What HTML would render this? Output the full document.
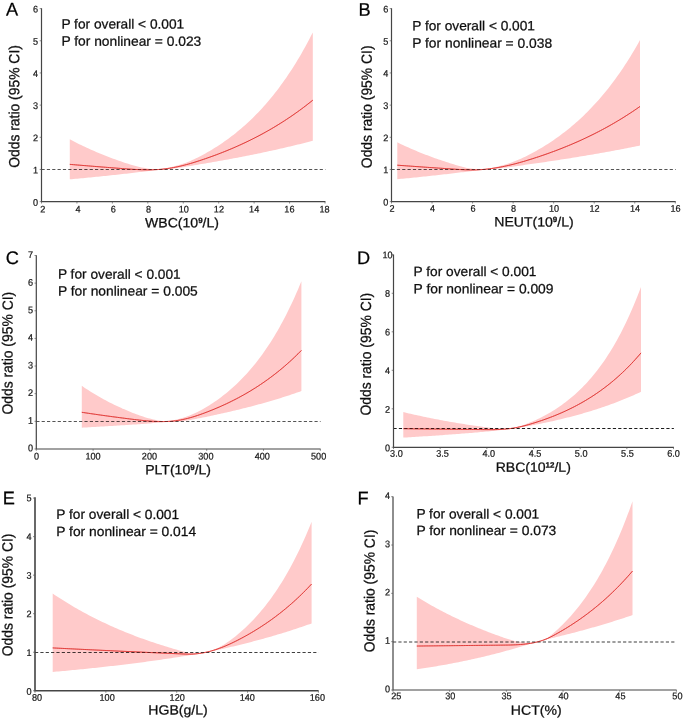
<!DOCTYPE html>
<html lang="en">
<head>
<meta charset="utf-8">
<title>Odds ratio (95% CI) restricted cubic spline curves</title>
<style>
html,body{margin:0;padding:0;background:#fff;}
body{width:685px;height:720px;overflow:hidden;}
svg{display:block;font-family:"Liberation Sans", Arial, Helvetica, sans-serif;}
text{stroke:#111;stroke-width:0.26px;stroke-linejoin:round;}
.tk text{stroke-width:0.22px;}
</style>
</head>
<body>
<svg width="685" height="720" viewBox="0 0 685 720">
<defs><filter id="soft" x="0" y="0" width="685" height="720" filterUnits="userSpaceOnUse"><feGaussianBlur stdDeviation="0.35"/></filter></defs>
<g filter="url(#soft)">
<rect width="685" height="720" fill="#ffffff"/>
<g id="panel-A">
<path d="M69.8 139.29 L71.68 140.29 L73.57 141.28 L75.45 142.24 L77.33 143.2 L79.22 144.14 L81.1 145.06 L82.99 145.97 L84.87 146.86 L86.75 147.74 L88.64 148.6 L90.52 149.46 L92.4 150.29 L94.29 151.12 L96.17 151.93 L98.06 152.73 L99.94 153.51 L101.82 154.28 L103.71 155.04 L105.59 155.79 L107.47 156.53 L109.36 157.25 L111.24 157.96 L113.13 158.66 L115.01 159.35 L116.89 160.03 L118.78 160.7 L120.66 161.35 L122.54 162 L124.43 162.63 L126.31 163.25 L128.2 163.85 L130.08 164.43 L131.96 164.99 L133.85 165.53 L135.73 166.04 L137.61 166.52 L139.5 166.97 L141.38 167.39 L143.27 167.77 L145.15 168.12 L147.03 168.44 L148.92 168.72 L150.8 168.96 L152.68 169.15 L154.57 169.31 L156.45 169.43 L158.33 169.5 L160.22 169.22 L162.1 168.9 L163.99 168.57 L165.87 168.22 L167.75 167.84 L169.64 167.45 L171.52 167.02 L173.4 166.57 L175.29 166.09 L177.17 165.57 L179.06 165.02 L180.94 164.43 L182.82 163.8 L184.71 163.13 L186.59 162.42 L188.47 161.67 L190.36 160.89 L192.24 160.06 L194.13 159.21 L196.01 158.31 L197.89 157.38 L199.78 156.43 L201.66 155.44 L203.54 154.43 L205.43 153.4 L207.31 152.34 L209.2 151.25 L211.08 150.14 L212.96 149.01 L214.85 147.84 L216.73 146.65 L218.61 145.44 L220.5 144.19 L222.38 142.92 L224.27 141.61 L226.15 140.28 L228.03 138.92 L229.92 137.52 L231.8 136.1 L233.68 134.64 L235.57 133.15 L237.45 131.62 L239.33 130.07 L241.22 128.47 L243.1 126.84 L244.99 125.18 L246.87 123.47 L248.75 121.73 L250.64 119.95 L252.52 118.13 L254.4 116.27 L256.29 114.36 L258.17 112.42 L260.06 110.43 L261.94 108.39 L263.82 106.31 L265.71 104.18 L267.59 102.01 L269.47 99.79 L271.36 97.51 L273.24 95.19 L275.13 92.81 L277.01 90.38 L278.89 87.9 L280.78 85.36 L282.66 82.77 L284.54 80.11 L286.43 77.4 L288.31 74.62 L290.2 71.79 L292.08 68.89 L293.96 65.92 L295.85 62.89 L297.73 59.8 L299.61 56.63 L301.5 53.39 L303.38 50.08 L305.27 46.69 L307.15 43.23 L309.03 39.7 L310.92 36.08 L312.8 32.38 L312.8 140.81 L310.92 141.3 L309.03 141.78 L307.15 142.27 L305.27 142.74 L303.38 143.22 L301.5 143.69 L299.61 144.15 L297.73 144.61 L295.85 145.07 L293.96 145.53 L292.08 145.98 L290.2 146.43 L288.31 146.87 L286.43 147.31 L284.54 147.75 L282.66 148.18 L280.78 148.61 L278.89 149.04 L277.01 149.46 L275.13 149.88 L273.24 150.3 L271.36 150.71 L269.47 151.12 L267.59 151.53 L265.71 151.93 L263.82 152.34 L261.94 152.73 L260.06 153.13 L258.17 153.52 L256.29 153.91 L254.4 154.29 L252.52 154.68 L250.64 155.05 L248.75 155.43 L246.87 155.81 L244.99 156.18 L243.1 156.54 L241.22 156.91 L239.33 157.27 L237.45 157.63 L235.57 157.99 L233.68 158.34 L231.8 158.7 L229.92 159.05 L228.03 159.39 L226.15 159.74 L224.27 160.08 L222.38 160.42 L220.5 160.76 L218.61 161.09 L216.73 161.43 L214.85 161.76 L212.96 162.09 L211.08 162.42 L209.2 162.75 L207.31 163.07 L205.43 163.39 L203.54 163.72 L201.66 164.04 L199.78 164.36 L197.89 164.69 L196.01 165.01 L194.13 165.33 L192.24 165.65 L190.36 165.96 L188.47 166.28 L186.59 166.59 L184.71 166.9 L182.82 167.2 L180.94 167.5 L179.06 167.79 L177.17 168.07 L175.29 168.33 L173.4 168.58 L171.52 168.81 L169.64 169.01 L167.75 169.19 L165.87 169.33 L163.99 169.44 L162.1 169.5 L160.22 169.52 L158.33 169.53 L156.45 169.82 L154.57 170.1 L152.68 170.37 L150.8 170.64 L148.92 170.9 L147.03 171.15 L145.15 171.4 L143.27 171.64 L141.38 171.88 L139.5 172.11 L137.61 172.34 L135.73 172.57 L133.85 172.79 L131.96 173.01 L130.08 173.23 L128.2 173.44 L126.31 173.66 L124.43 173.87 L122.54 174.08 L120.66 174.28 L118.78 174.49 L116.89 174.7 L115.01 174.9 L113.13 175.1 L111.24 175.3 L109.36 175.5 L107.47 175.7 L105.59 175.89 L103.71 176.09 L101.82 176.28 L99.94 176.47 L98.06 176.67 L96.17 176.85 L94.29 177.04 L92.4 177.23 L90.52 177.41 L88.64 177.6 L86.75 177.78 L84.87 177.96 L82.99 178.14 L81.1 178.32 L79.22 178.49 L77.33 178.67 L75.45 178.84 L73.57 179.02 L71.68 179.19 L69.8 179.36Z" fill="#ffcaca"/>
<path d="M69.8 164.36 L71.68 164.52 L73.57 164.68 L75.45 164.84 L77.33 165 L79.22 165.15 L81.1 165.31 L82.99 165.46 L84.87 165.62 L86.75 165.77 L88.64 165.93 L90.52 166.08 L92.4 166.23 L94.29 166.38 L96.17 166.54 L98.06 166.69 L99.94 166.84 L101.82 166.99 L103.71 167.13 L105.59 167.28 L107.47 167.43 L109.36 167.58 L111.24 167.72 L113.13 167.87 L115.01 168.01 L116.89 168.16 L118.78 168.3 L120.66 168.44 L122.54 168.58 L124.43 168.72 L126.31 168.86 L128.2 169 L130.08 169.13 L131.96 169.25 L133.85 169.36 L135.73 169.47 L137.61 169.56 L139.5 169.64 L141.38 169.71 L143.27 169.76 L145.15 169.8 L147.03 169.82 L148.92 169.83 L150.8 169.81 L152.68 169.77 L154.57 169.71 L156.45 169.62 L158.33 169.51 L160.22 169.37 L162.1 169.2 L163.99 169.01 L165.87 168.78 L167.75 168.52 L169.64 168.24 L171.52 167.93 L173.4 167.59 L175.29 167.23 L177.17 166.84 L179.06 166.43 L180.94 166 L182.82 165.54 L184.71 165.06 L186.59 164.57 L188.47 164.05 L190.36 163.51 L192.24 162.96 L194.13 162.39 L196.01 161.8 L197.89 161.2 L199.78 160.59 L201.66 159.96 L203.54 159.33 L205.43 158.69 L207.31 158.03 L209.2 157.37 L211.08 156.7 L212.96 156.01 L214.85 155.32 L216.73 154.62 L218.61 153.9 L220.5 153.18 L222.38 152.44 L224.27 151.69 L226.15 150.93 L228.03 150.16 L229.92 149.38 L231.8 148.59 L233.68 147.78 L235.57 146.96 L237.45 146.13 L239.33 145.29 L241.22 144.43 L243.1 143.56 L244.99 142.68 L246.87 141.78 L248.75 140.87 L250.64 139.95 L252.52 139.01 L254.4 138.06 L256.29 137.09 L258.17 136.11 L260.06 135.12 L261.94 134.11 L263.82 133.08 L265.71 132.04 L267.59 130.98 L269.47 129.91 L271.36 128.82 L273.24 127.71 L275.13 126.59 L277.01 125.45 L278.89 124.29 L280.78 123.11 L282.66 121.92 L284.54 120.71 L286.43 119.48 L288.31 118.23 L290.2 116.96 L292.08 115.68 L293.96 114.37 L295.85 113.04 L297.73 111.7 L299.61 110.33 L301.5 108.94 L303.38 107.54 L305.27 106.11 L307.15 104.65 L309.03 103.18 L310.92 101.69 L312.8 100.17" fill="none" stroke="#e03a37" stroke-width="0.95"/>
<line x1="41.5" y1="169.5" x2="325.4" y2="169.5" stroke="#000" stroke-opacity="0.84" stroke-width="0.8" stroke-dasharray="3.2 2.15" stroke-dashoffset="0"/>
<path d="M69.8 164.36 L71.68 164.52 L73.57 164.68 L75.45 164.84 L77.33 165 L79.22 165.15 L81.1 165.31 L82.99 165.46 L84.87 165.62 L86.75 165.77 L88.64 165.93 L90.52 166.08 L92.4 166.23 L94.29 166.38 L96.17 166.54 L98.06 166.69 L99.94 166.84 L101.82 166.99 L103.71 167.13 L105.59 167.28 L107.47 167.43 L109.36 167.58 L111.24 167.72 L113.13 167.87 L115.01 168.01 L116.89 168.16 L118.78 168.3 L120.66 168.44 L122.54 168.58 L124.43 168.72 L126.31 168.86 L128.2 169 L130.08 169.13 L131.96 169.25 L133.85 169.36 L135.73 169.47 L137.61 169.56 L139.5 169.64 L141.38 169.71 L143.27 169.76 L145.15 169.8 L147.03 169.82 L148.92 169.83 L150.8 169.81 L152.68 169.77 L154.57 169.71 L156.45 169.62 L158.33 169.51 L160.22 169.37 L162.1 169.2 L163.99 169.01 L165.87 168.78 L167.75 168.52 L169.64 168.24 L171.52 167.93 L173.4 167.59 L175.29 167.23 L177.17 166.84 L179.06 166.43 L180.94 166 L182.82 165.54 L184.71 165.06 L186.59 164.57 L188.47 164.05 L190.36 163.51 L192.24 162.96 L194.13 162.39 L196.01 161.8 L197.89 161.2 L199.78 160.59 L201.66 159.96 L203.54 159.33 L205.43 158.69 L207.31 158.03 L209.2 157.37 L211.08 156.7 L212.96 156.01 L214.85 155.32 L216.73 154.62 L218.61 153.9 L220.5 153.18 L222.38 152.44 L224.27 151.69 L226.15 150.93 L228.03 150.16 L229.92 149.38 L231.8 148.59 L233.68 147.78 L235.57 146.96 L237.45 146.13 L239.33 145.29 L241.22 144.43 L243.1 143.56 L244.99 142.68 L246.87 141.78 L248.75 140.87 L250.64 139.95 L252.52 139.01 L254.4 138.06 L256.29 137.09 L258.17 136.11 L260.06 135.12 L261.94 134.11 L263.82 133.08 L265.71 132.04 L267.59 130.98 L269.47 129.91 L271.36 128.82 L273.24 127.71 L275.13 126.59 L277.01 125.45 L278.89 124.29 L280.78 123.11 L282.66 121.92 L284.54 120.71 L286.43 119.48 L288.31 118.23 L290.2 116.96 L292.08 115.68 L293.96 114.37 L295.85 113.04 L297.73 111.7 L299.61 110.33 L301.5 108.94 L303.38 107.54 L305.27 106.11 L307.15 104.65 L309.03 103.18 L310.92 101.69 L312.8 100.17" fill="none" stroke="#e03a37" stroke-opacity="0.38" stroke-width="0.95"/>
<path d="M41.5 8.2 V201.7 H325.4" fill="none" stroke="#444444" stroke-width="1.2" stroke-linejoin="miter"/>
<path d="M41.5 201.7 v1.8 M76.94 201.7 v1.8 M112.38 201.7 v1.8 M147.81 201.7 v1.8 M183.25 201.7 v1.8 M218.69 201.7 v1.8 M254.12 201.7 v1.8 M289.56 201.7 v1.8 M325 201.7 v1.8 M41.5 201.65 h-1.8 M41.5 169.47 h-1.8 M41.5 137.3 h-1.8 M41.5 105.12 h-1.8 M41.5 72.95 h-1.8 M41.5 40.77 h-1.8 M41.5 8.6 h-1.8" fill="none" stroke="#5a5a5a" stroke-width="0.7"/>
<g class="tk" font-size="9.6" fill="#1c1c1c">
<text transform="translate(42.8 212.6) rotate(0.05) scale(0.95 1)" text-anchor="middle">2</text>
<text transform="translate(78.03 212.6) rotate(0.05) scale(0.95 1)" text-anchor="middle">4</text>
<text transform="translate(113.25 212.6) rotate(0.05) scale(0.95 1)" text-anchor="middle">6</text>
<text transform="translate(148.48 212.6) rotate(0.05) scale(0.95 1)" text-anchor="middle">8</text>
<text transform="translate(183.7 212.6) rotate(0.05) scale(0.95 1)" text-anchor="middle">10</text>
<text transform="translate(218.93 212.6) rotate(0.05) scale(0.95 1)" text-anchor="middle">12</text>
<text transform="translate(254.15 212.6) rotate(0.05) scale(0.95 1)" text-anchor="middle">14</text>
<text transform="translate(289.38 212.6) rotate(0.05) scale(0.95 1)" text-anchor="middle">16</text>
<text transform="translate(324.6 212.6) rotate(0.05) scale(0.95 1)" text-anchor="middle">18</text>
<text transform="translate(35.5 205.63) rotate(0.05) scale(0.95 1)" text-anchor="middle">0</text>
<text transform="translate(35.5 173.45) rotate(0.05) scale(0.95 1)" text-anchor="middle">1</text>
<text transform="translate(35.5 141.26) rotate(0.05) scale(0.95 1)" text-anchor="middle">2</text>
<text transform="translate(35.5 109.08) rotate(0.05) scale(0.95 1)" text-anchor="middle">3</text>
<text transform="translate(35.5 76.9) rotate(0.05) scale(0.95 1)" text-anchor="middle">4</text>
<text transform="translate(35.5 44.71) rotate(0.05) scale(0.95 1)" text-anchor="middle">5</text>
<text transform="translate(35.5 12.53) rotate(0.05) scale(0.95 1)" text-anchor="middle">6</text>
</g>
<text transform="translate(6 15.4) rotate(0.05) scale(1.0 1)" font-size="18.2" fill="#000">A</text>
<g font-size="13.3" fill="#111111">
<text transform="translate(61.4 28.45) rotate(0.05) scale(1.031 1)">P for overall &lt; 0.001</text>
<text transform="translate(61.4 45.6) rotate(0.05) scale(1.04 1)">P for nonlinear = 0.023</text>
</g>
<text transform="translate(182 227.3) rotate(0.05) scale(1.05 1)" font-size="13.4" fill="#111111" text-anchor="middle">WBC(10<tspan font-size="7.6" dy="-4.4" font-weight="bold">9</tspan><tspan dy="4.4">/L)</tspan></text>
<text transform="translate(19.3 106.5) rotate(-89.95) scale(1 1.06)" font-size="13.9" fill="#111111" text-anchor="middle">Odds ratio (95% CI)</text>
</g>
<g id="panel-B">
<path d="M397.3 142.37 L399.18 143.28 L401.06 144.18 L402.94 145.06 L404.83 145.93 L406.71 146.78 L408.59 147.62 L410.47 148.45 L412.35 149.27 L414.23 150.07 L416.11 150.86 L418 151.64 L419.88 152.4 L421.76 153.16 L423.64 153.9 L425.52 154.63 L427.4 155.36 L429.28 156.06 L431.17 156.76 L433.05 157.45 L434.93 158.13 L436.81 158.8 L438.69 159.45 L440.57 160.1 L442.45 160.73 L444.33 161.36 L446.22 161.98 L448.1 162.59 L449.98 163.18 L451.86 163.77 L453.74 164.35 L455.62 164.92 L457.5 165.48 L459.39 166.02 L461.27 166.54 L463.15 167.02 L465.03 167.48 L466.91 167.9 L468.79 168.27 L470.67 168.6 L472.56 168.87 L474.44 169.09 L476.32 169.26 L478.2 169.39 L480.08 169.46 L481.96 169.5 L483.84 169.3 L485.73 168.99 L487.61 168.67 L489.49 168.33 L491.37 167.97 L493.25 167.6 L495.13 167.19 L497.01 166.77 L498.9 166.32 L500.78 165.84 L502.66 165.33 L504.54 164.78 L506.42 164.21 L508.3 163.6 L510.18 162.96 L512.07 162.28 L513.95 161.57 L515.83 160.83 L517.71 160.05 L519.59 159.24 L521.47 158.4 L523.35 157.53 L525.23 156.63 L527.12 155.7 L529 154.75 L530.88 153.77 L532.76 152.77 L534.64 151.74 L536.52 150.69 L538.4 149.62 L540.29 148.53 L542.17 147.41 L544.05 146.27 L545.93 145.1 L547.81 143.9 L549.69 142.68 L551.57 141.44 L553.46 140.16 L555.34 138.86 L557.22 137.53 L559.1 136.18 L560.98 134.79 L562.86 133.37 L564.74 131.93 L566.63 130.45 L568.51 128.94 L570.39 127.4 L572.27 125.82 L574.15 124.22 L576.03 122.57 L577.91 120.9 L579.8 119.18 L581.68 117.43 L583.56 115.65 L585.44 113.82 L587.32 111.96 L589.2 110.05 L591.08 108.11 L592.97 106.12 L594.85 104.09 L596.73 102.02 L598.61 99.9 L600.49 97.74 L602.37 95.53 L604.25 93.28 L606.13 90.98 L608.02 88.63 L609.9 86.23 L611.78 83.77 L613.66 81.27 L615.54 78.71 L617.42 76.1 L619.3 73.43 L621.19 70.71 L623.07 67.92 L624.95 65.08 L626.83 62.18 L628.71 59.21 L630.59 56.19 L632.47 53.09 L634.36 49.94 L636.24 46.71 L638.12 43.42 L640 40.05 L640 145.59 L638.12 145.98 L636.24 146.35 L634.36 146.73 L632.47 147.1 L630.59 147.47 L628.71 147.84 L626.83 148.21 L624.95 148.57 L623.07 148.93 L621.19 149.29 L619.3 149.65 L617.42 150 L615.54 150.36 L613.66 150.71 L611.78 151.05 L609.9 151.4 L608.02 151.74 L606.13 152.08 L604.25 152.42 L602.37 152.75 L600.49 153.09 L598.61 153.42 L596.73 153.75 L594.85 154.07 L592.97 154.4 L591.08 154.72 L589.2 155.04 L587.32 155.36 L585.44 155.68 L583.56 155.99 L581.68 156.3 L579.8 156.61 L577.91 156.92 L576.03 157.23 L574.15 157.53 L572.27 157.83 L570.39 158.14 L568.51 158.43 L566.63 158.73 L564.74 159.03 L562.86 159.32 L560.98 159.61 L559.1 159.9 L557.22 160.19 L555.34 160.47 L553.46 160.76 L551.57 161.04 L549.69 161.32 L547.81 161.6 L545.93 161.88 L544.05 162.16 L542.17 162.43 L540.29 162.71 L538.4 162.98 L536.52 163.25 L534.64 163.52 L532.76 163.8 L530.88 164.07 L529 164.34 L527.12 164.6 L525.23 164.87 L523.35 165.14 L521.47 165.41 L519.59 165.68 L517.71 165.94 L515.83 166.2 L513.95 166.47 L512.07 166.72 L510.18 166.98 L508.3 167.23 L506.42 167.48 L504.54 167.73 L502.66 167.97 L500.78 168.2 L498.9 168.41 L497.01 168.62 L495.13 168.81 L493.25 168.99 L491.37 169.14 L489.49 169.27 L487.61 169.38 L485.73 169.45 L483.84 169.49 L481.96 169.6 L480.08 169.88 L478.2 170.16 L476.32 170.43 L474.44 170.69 L472.56 170.94 L470.67 171.19 L468.79 171.43 L466.91 171.67 L465.03 171.91 L463.15 172.14 L461.27 172.37 L459.39 172.6 L457.5 172.82 L455.62 173.05 L453.74 173.27 L451.86 173.49 L449.98 173.71 L448.1 173.93 L446.22 174.14 L444.33 174.36 L442.45 174.57 L440.57 174.78 L438.69 174.99 L436.81 175.2 L434.93 175.41 L433.05 175.61 L431.17 175.82 L429.28 176.02 L427.4 176.22 L425.52 176.42 L423.64 176.62 L421.76 176.81 L419.88 177.01 L418 177.2 L416.11 177.39 L414.23 177.58 L412.35 177.77 L410.47 177.96 L408.59 178.15 L406.71 178.33 L404.83 178.51 L402.94 178.69 L401.06 178.87 L399.18 179.05 L397.3 179.23Z" fill="#ffcaca"/>
<path d="M397.3 165.19 L399.18 165.33 L401.06 165.47 L402.94 165.6 L404.83 165.74 L406.71 165.88 L408.59 166.01 L410.47 166.15 L412.35 166.28 L414.23 166.42 L416.11 166.55 L418 166.68 L419.88 166.81 L421.76 166.95 L423.64 167.08 L425.52 167.21 L427.4 167.34 L429.28 167.47 L431.17 167.6 L433.05 167.73 L434.93 167.86 L436.81 167.98 L438.69 168.11 L440.57 168.24 L442.45 168.36 L444.33 168.49 L446.22 168.62 L448.1 168.74 L449.98 168.87 L451.86 168.99 L453.74 169.11 L455.62 169.24 L457.5 169.36 L459.39 169.47 L461.27 169.58 L463.15 169.68 L465.03 169.77 L466.91 169.84 L468.79 169.89 L470.67 169.92 L472.56 169.92 L474.44 169.9 L476.32 169.85 L478.2 169.78 L480.08 169.67 L481.96 169.55 L483.84 169.4 L485.73 169.22 L487.61 169.03 L489.49 168.81 L491.37 168.56 L493.25 168.3 L495.13 168.01 L497.01 167.71 L498.9 167.38 L500.78 167.04 L502.66 166.67 L504.54 166.29 L506.42 165.88 L508.3 165.46 L510.18 165.02 L512.07 164.57 L513.95 164.1 L515.83 163.61 L517.71 163.11 L519.59 162.59 L521.47 162.06 L523.35 161.52 L525.23 160.96 L527.12 160.39 L529 159.81 L530.88 159.23 L532.76 158.63 L534.64 158.03 L536.52 157.42 L538.4 156.8 L540.29 156.17 L542.17 155.53 L544.05 154.88 L545.93 154.23 L547.81 153.56 L549.69 152.88 L551.57 152.2 L553.46 151.51 L555.34 150.8 L557.22 150.09 L559.1 149.37 L560.98 148.63 L562.86 147.89 L564.74 147.13 L566.63 146.37 L568.51 145.59 L570.39 144.81 L572.27 144.01 L574.15 143.2 L576.03 142.38 L577.91 141.55 L579.8 140.71 L581.68 139.85 L583.56 138.98 L585.44 138.1 L587.32 137.21 L589.2 136.31 L591.08 135.39 L592.97 134.46 L594.85 133.52 L596.73 132.56 L598.61 131.59 L600.49 130.61 L602.37 129.62 L604.25 128.6 L606.13 127.58 L608.02 126.54 L609.9 125.49 L611.78 124.42 L613.66 123.34 L615.54 122.24 L617.42 121.12 L619.3 119.99 L621.19 118.85 L623.07 117.69 L624.95 116.51 L626.83 115.31 L628.71 114.1 L630.59 112.87 L632.47 111.63 L634.36 110.37 L636.24 109.09 L638.12 107.79 L640 106.47" fill="none" stroke="#e03a37" stroke-width="0.95"/>
<line x1="391.5" y1="169.5" x2="675.7" y2="169.5" stroke="#000" stroke-opacity="0.84" stroke-width="0.8" stroke-dasharray="3.2 2.15" stroke-dashoffset="0"/>
<path d="M397.3 165.19 L399.18 165.33 L401.06 165.47 L402.94 165.6 L404.83 165.74 L406.71 165.88 L408.59 166.01 L410.47 166.15 L412.35 166.28 L414.23 166.42 L416.11 166.55 L418 166.68 L419.88 166.81 L421.76 166.95 L423.64 167.08 L425.52 167.21 L427.4 167.34 L429.28 167.47 L431.17 167.6 L433.05 167.73 L434.93 167.86 L436.81 167.98 L438.69 168.11 L440.57 168.24 L442.45 168.36 L444.33 168.49 L446.22 168.62 L448.1 168.74 L449.98 168.87 L451.86 168.99 L453.74 169.11 L455.62 169.24 L457.5 169.36 L459.39 169.47 L461.27 169.58 L463.15 169.68 L465.03 169.77 L466.91 169.84 L468.79 169.89 L470.67 169.92 L472.56 169.92 L474.44 169.9 L476.32 169.85 L478.2 169.78 L480.08 169.67 L481.96 169.55 L483.84 169.4 L485.73 169.22 L487.61 169.03 L489.49 168.81 L491.37 168.56 L493.25 168.3 L495.13 168.01 L497.01 167.71 L498.9 167.38 L500.78 167.04 L502.66 166.67 L504.54 166.29 L506.42 165.88 L508.3 165.46 L510.18 165.02 L512.07 164.57 L513.95 164.1 L515.83 163.61 L517.71 163.11 L519.59 162.59 L521.47 162.06 L523.35 161.52 L525.23 160.96 L527.12 160.39 L529 159.81 L530.88 159.23 L532.76 158.63 L534.64 158.03 L536.52 157.42 L538.4 156.8 L540.29 156.17 L542.17 155.53 L544.05 154.88 L545.93 154.23 L547.81 153.56 L549.69 152.88 L551.57 152.2 L553.46 151.51 L555.34 150.8 L557.22 150.09 L559.1 149.37 L560.98 148.63 L562.86 147.89 L564.74 147.13 L566.63 146.37 L568.51 145.59 L570.39 144.81 L572.27 144.01 L574.15 143.2 L576.03 142.38 L577.91 141.55 L579.8 140.71 L581.68 139.85 L583.56 138.98 L585.44 138.1 L587.32 137.21 L589.2 136.31 L591.08 135.39 L592.97 134.46 L594.85 133.52 L596.73 132.56 L598.61 131.59 L600.49 130.61 L602.37 129.62 L604.25 128.6 L606.13 127.58 L608.02 126.54 L609.9 125.49 L611.78 124.42 L613.66 123.34 L615.54 122.24 L617.42 121.12 L619.3 119.99 L621.19 118.85 L623.07 117.69 L624.95 116.51 L626.83 115.31 L628.71 114.1 L630.59 112.87 L632.47 111.63 L634.36 110.37 L636.24 109.09 L638.12 107.79 L640 106.47" fill="none" stroke="#e03a37" stroke-opacity="0.38" stroke-width="0.95"/>
<path d="M391.5 8.2 V201.7 H675.7" fill="none" stroke="#444444" stroke-width="1.2" stroke-linejoin="miter"/>
<path d="M391.5 201.7 v1.8 M432.04 201.7 v1.8 M472.59 201.7 v1.8 M513.13 201.7 v1.8 M553.67 201.7 v1.8 M594.21 201.7 v1.8 M634.76 201.7 v1.8 M675.3 201.7 v1.8 M391.5 201.66 h-1.8 M391.5 169.48 h-1.8 M391.5 137.31 h-1.8 M391.5 105.13 h-1.8 M391.5 72.95 h-1.8 M391.5 40.78 h-1.8 M391.5 8.6 h-1.8" fill="none" stroke="#5a5a5a" stroke-width="0.7"/>
<g class="tk" font-size="9.6" fill="#1c1c1c">
<text transform="translate(392 211.7) rotate(0.05) scale(0.95 1)" text-anchor="middle">2</text>
<text transform="translate(432.5 211.7) rotate(0.05) scale(0.95 1)" text-anchor="middle">4</text>
<text transform="translate(473 211.7) rotate(0.05) scale(0.95 1)" text-anchor="middle">6</text>
<text transform="translate(513.5 211.7) rotate(0.05) scale(0.95 1)" text-anchor="middle">8</text>
<text transform="translate(554 211.7) rotate(0.05) scale(0.95 1)" text-anchor="middle">10</text>
<text transform="translate(594.5 211.7) rotate(0.05) scale(0.95 1)" text-anchor="middle">12</text>
<text transform="translate(635 211.7) rotate(0.05) scale(0.95 1)" text-anchor="middle">14</text>
<text transform="translate(675.5 211.7) rotate(0.05) scale(0.95 1)" text-anchor="middle">16</text>
<text transform="translate(385.9 205.53) rotate(0.05) scale(0.95 1)" text-anchor="middle">0</text>
<text transform="translate(385.9 173.36) rotate(0.05) scale(0.95 1)" text-anchor="middle">1</text>
<text transform="translate(385.9 141.18) rotate(0.05) scale(0.95 1)" text-anchor="middle">2</text>
<text transform="translate(385.9 109.01) rotate(0.05) scale(0.95 1)" text-anchor="middle">3</text>
<text transform="translate(385.9 76.83) rotate(0.05) scale(0.95 1)" text-anchor="middle">4</text>
<text transform="translate(385.9 44.66) rotate(0.05) scale(0.95 1)" text-anchor="middle">5</text>
<text transform="translate(385.9 12.48) rotate(0.05) scale(0.95 1)" text-anchor="middle">6</text>
</g>
<text transform="translate(358.4 15.7) rotate(0.05) scale(1.0 1)" font-size="18.2" fill="#000">B</text>
<g font-size="13.3" fill="#111111">
<text transform="translate(412.2 30.2) rotate(0.05) scale(1.031 1)">P for overall &lt; 0.001</text>
<text transform="translate(412.2 47.55) rotate(0.05) scale(1.04 1)">P for nonlinear = 0.038</text>
</g>
<text transform="translate(534 226.4) rotate(0.05) scale(1.05 1)" font-size="13.4" fill="#111111" text-anchor="middle">NEUT(10<tspan font-size="7.6" dy="-4.4" font-weight="bold">9</tspan><tspan dy="4.4">/L)</tspan></text>
<text transform="translate(371.8 106.8) rotate(-89.95) scale(1 1.06)" font-size="13.9" fill="#111111" text-anchor="middle">Odds ratio (95% CI)</text>
</g>
<g id="panel-C">
<path d="M81.8 385.82 L83.5 386.99 L85.2 388.13 L86.91 389.26 L88.61 390.36 L90.31 391.45 L92.01 392.51 L93.72 393.56 L95.42 394.58 L97.12 395.59 L98.82 396.57 L100.53 397.54 L102.23 398.49 L103.93 399.43 L105.63 400.34 L107.33 401.24 L109.04 402.13 L110.74 402.99 L112.44 403.84 L114.14 404.68 L115.85 405.5 L117.55 406.3 L119.25 407.09 L120.95 407.87 L122.66 408.63 L124.36 409.37 L126.06 410.11 L127.76 410.82 L129.47 411.53 L131.17 412.22 L132.87 412.9 L134.57 413.57 L136.27 414.22 L137.98 414.85 L139.68 415.46 L141.38 416.05 L143.08 416.61 L144.79 417.16 L146.49 417.67 L148.19 418.16 L149.89 418.62 L151.6 419.06 L153.3 419.46 L155 419.83 L156.7 420.18 L158.4 420.49 L160.11 420.76 L161.81 421.01 L163.51 421.22 L165.21 421.39 L166.92 421.44 L168.62 421.17 L170.32 420.88 L172.02 420.56 L173.73 420.22 L175.43 419.86 L177.13 419.46 L178.83 419.03 L180.53 418.57 L182.24 418.08 L183.94 417.55 L185.64 416.98 L187.34 416.37 L189.05 415.73 L190.75 415.05 L192.45 414.33 L194.15 413.57 L195.86 412.77 L197.56 411.94 L199.26 411.07 L200.96 410.16 L202.67 409.22 L204.37 408.25 L206.07 407.24 L207.77 406.21 L209.47 405.16 L211.18 404.07 L212.88 402.95 L214.58 401.81 L216.28 400.63 L217.99 399.43 L219.69 398.19 L221.39 396.92 L223.09 395.61 L224.8 394.28 L226.5 392.91 L228.2 391.5 L229.9 390.06 L231.6 388.57 L233.31 387.06 L235.01 385.5 L236.71 383.9 L238.41 382.27 L240.12 380.59 L241.82 378.86 L243.52 377.1 L245.22 375.29 L246.93 373.43 L248.63 371.53 L250.33 369.58 L252.03 367.57 L253.73 365.52 L255.44 363.42 L257.14 361.26 L258.84 359.05 L260.54 356.78 L262.25 354.45 L263.95 352.06 L265.65 349.62 L267.35 347.11 L269.06 344.54 L270.76 341.9 L272.46 339.2 L274.16 336.43 L275.87 333.59 L277.57 330.67 L279.27 327.69 L280.97 324.62 L282.67 321.48 L284.38 318.26 L286.08 314.96 L287.78 311.58 L289.48 308.11 L291.19 304.55 L292.89 300.9 L294.59 297.16 L296.29 293.33 L298 289.4 L299.7 285.36 L301.4 281.23 L301.4 391.09 L299.7 391.68 L298 392.28 L296.29 392.86 L294.59 393.44 L292.89 394.02 L291.19 394.59 L289.48 395.15 L287.78 395.7 L286.08 396.26 L284.38 396.8 L282.67 397.34 L280.97 397.88 L279.27 398.41 L277.57 398.93 L275.87 399.45 L274.16 399.96 L272.46 400.47 L270.76 400.97 L269.06 401.47 L267.35 401.96 L265.65 402.45 L263.95 402.93 L262.25 403.41 L260.54 403.89 L258.84 404.35 L257.14 404.82 L255.44 405.28 L253.73 405.73 L252.03 406.18 L250.33 406.63 L248.63 407.07 L246.93 407.51 L245.22 407.94 L243.52 408.37 L241.82 408.79 L240.12 409.21 L238.41 409.63 L236.71 410.04 L235.01 410.45 L233.31 410.86 L231.6 411.26 L229.9 411.65 L228.2 412.05 L226.5 412.44 L224.8 412.82 L223.09 413.21 L221.39 413.59 L219.69 413.96 L217.99 414.34 L216.28 414.71 L214.58 415.08 L212.88 415.44 L211.18 415.8 L209.47 416.16 L207.77 416.52 L206.07 416.88 L204.37 417.23 L202.67 417.59 L200.96 417.94 L199.26 418.28 L197.56 418.62 L195.86 418.95 L194.15 419.27 L192.45 419.59 L190.75 419.89 L189.05 420.17 L187.34 420.44 L185.64 420.69 L183.94 420.92 L182.24 421.13 L180.53 421.31 L178.83 421.46 L177.13 421.58 L175.43 421.67 L173.73 421.72 L172.02 421.73 L170.32 421.7 L168.62 421.63 L166.92 421.53 L165.21 421.69 L163.51 421.93 L161.81 422.15 L160.11 422.35 L158.4 422.55 L156.7 422.73 L155 422.91 L153.3 423.07 L151.6 423.23 L149.89 423.38 L148.19 423.52 L146.49 423.65 L144.79 423.78 L143.08 423.91 L141.38 424.03 L139.68 424.15 L137.98 424.26 L136.27 424.38 L134.57 424.49 L132.87 424.6 L131.17 424.71 L129.47 424.82 L127.76 424.93 L126.06 425.04 L124.36 425.14 L122.66 425.25 L120.95 425.36 L119.25 425.47 L117.55 425.57 L115.85 425.68 L114.14 425.78 L112.44 425.89 L110.74 425.99 L109.04 426.1 L107.33 426.2 L105.63 426.3 L103.93 426.41 L102.23 426.51 L100.53 426.61 L98.82 426.71 L97.12 426.81 L95.42 426.92 L93.72 427.02 L92.01 427.12 L90.31 427.21 L88.61 427.31 L86.91 427.41 L85.2 427.51 L83.5 427.61 L81.8 427.7Z" fill="#ffcaca"/>
<path d="M81.8 412.3 L83.5 412.56 L85.2 412.81 L86.91 413.07 L88.61 413.32 L90.31 413.57 L92.01 413.82 L93.72 414.07 L95.42 414.32 L97.12 414.56 L98.82 414.81 L100.53 415.05 L102.23 415.29 L103.93 415.52 L105.63 415.76 L107.33 415.99 L109.04 416.23 L110.74 416.46 L112.44 416.69 L114.14 416.92 L115.85 417.14 L117.55 417.37 L119.25 417.59 L120.95 417.81 L122.66 418.03 L124.36 418.25 L126.06 418.47 L127.76 418.68 L129.47 418.9 L131.17 419.11 L132.87 419.32 L134.57 419.53 L136.27 419.73 L137.98 419.93 L139.68 420.13 L141.38 420.31 L143.08 420.49 L144.79 420.66 L146.49 420.82 L148.19 420.97 L149.89 421.1 L151.6 421.22 L153.3 421.32 L155 421.41 L156.7 421.48 L158.4 421.54 L160.11 421.57 L161.81 421.58 L163.51 421.57 L165.21 421.54 L166.92 421.48 L168.62 421.4 L170.32 421.29 L172.02 421.15 L173.73 420.98 L175.43 420.78 L177.13 420.54 L178.83 420.27 L180.53 419.97 L182.24 419.64 L183.94 419.28 L185.64 418.89 L187.34 418.47 L189.05 418.03 L190.75 417.56 L192.45 417.07 L194.15 416.55 L195.86 416.01 L197.56 415.45 L199.26 414.86 L200.96 414.26 L202.67 413.65 L204.37 413.02 L206.07 412.38 L207.77 411.72 L209.47 411.06 L211.18 410.38 L212.88 409.69 L214.58 408.99 L216.28 408.27 L217.99 407.54 L219.69 406.8 L221.39 406.05 L223.09 405.28 L224.8 404.5 L226.5 403.71 L228.2 402.9 L229.9 402.08 L231.6 401.24 L233.31 400.39 L235.01 399.52 L236.71 398.64 L238.41 397.74 L240.12 396.82 L241.82 395.89 L243.52 394.94 L245.22 393.98 L246.93 393 L248.63 392 L250.33 390.98 L252.03 389.95 L253.73 388.89 L255.44 387.82 L257.14 386.73 L258.84 385.62 L260.54 384.49 L262.25 383.34 L263.95 382.17 L265.65 380.98 L267.35 379.76 L269.06 378.53 L270.76 377.27 L272.46 375.99 L274.16 374.69 L275.87 373.36 L277.57 372.02 L279.27 370.64 L280.97 369.25 L282.67 367.82 L284.38 366.38 L286.08 364.9 L287.78 363.4 L289.48 361.88 L291.19 360.33 L292.89 358.75 L294.59 357.14 L296.29 355.5 L298 353.83 L299.7 352.14 L301.4 350.41" fill="none" stroke="#e03a37" stroke-width="0.95"/>
<line x1="36.3" y1="421.5" x2="320.6" y2="421.5" stroke="#000" stroke-opacity="0.84" stroke-width="0.8" stroke-dasharray="3.2 2.15" stroke-dashoffset="0"/>
<path d="M81.8 412.3 L83.5 412.56 L85.2 412.81 L86.91 413.07 L88.61 413.32 L90.31 413.57 L92.01 413.82 L93.72 414.07 L95.42 414.32 L97.12 414.56 L98.82 414.81 L100.53 415.05 L102.23 415.29 L103.93 415.52 L105.63 415.76 L107.33 415.99 L109.04 416.23 L110.74 416.46 L112.44 416.69 L114.14 416.92 L115.85 417.14 L117.55 417.37 L119.25 417.59 L120.95 417.81 L122.66 418.03 L124.36 418.25 L126.06 418.47 L127.76 418.68 L129.47 418.9 L131.17 419.11 L132.87 419.32 L134.57 419.53 L136.27 419.73 L137.98 419.93 L139.68 420.13 L141.38 420.31 L143.08 420.49 L144.79 420.66 L146.49 420.82 L148.19 420.97 L149.89 421.1 L151.6 421.22 L153.3 421.32 L155 421.41 L156.7 421.48 L158.4 421.54 L160.11 421.57 L161.81 421.58 L163.51 421.57 L165.21 421.54 L166.92 421.48 L168.62 421.4 L170.32 421.29 L172.02 421.15 L173.73 420.98 L175.43 420.78 L177.13 420.54 L178.83 420.27 L180.53 419.97 L182.24 419.64 L183.94 419.28 L185.64 418.89 L187.34 418.47 L189.05 418.03 L190.75 417.56 L192.45 417.07 L194.15 416.55 L195.86 416.01 L197.56 415.45 L199.26 414.86 L200.96 414.26 L202.67 413.65 L204.37 413.02 L206.07 412.38 L207.77 411.72 L209.47 411.06 L211.18 410.38 L212.88 409.69 L214.58 408.99 L216.28 408.27 L217.99 407.54 L219.69 406.8 L221.39 406.05 L223.09 405.28 L224.8 404.5 L226.5 403.71 L228.2 402.9 L229.9 402.08 L231.6 401.24 L233.31 400.39 L235.01 399.52 L236.71 398.64 L238.41 397.74 L240.12 396.82 L241.82 395.89 L243.52 394.94 L245.22 393.98 L246.93 393 L248.63 392 L250.33 390.98 L252.03 389.95 L253.73 388.89 L255.44 387.82 L257.14 386.73 L258.84 385.62 L260.54 384.49 L262.25 383.34 L263.95 382.17 L265.65 380.98 L267.35 379.76 L269.06 378.53 L270.76 377.27 L272.46 375.99 L274.16 374.69 L275.87 373.36 L277.57 372.02 L279.27 370.64 L280.97 369.25 L282.67 367.82 L284.38 366.38 L286.08 364.9 L287.78 363.4 L289.48 361.88 L291.19 360.33 L292.89 358.75 L294.59 357.14 L296.29 355.5 L298 353.83 L299.7 352.14 L301.4 350.41" fill="none" stroke="#e03a37" stroke-opacity="0.38" stroke-width="0.95"/>
<path d="M36.3 255.3 V449 H320.6" fill="none" stroke="#444444" stroke-width="1.2" stroke-linejoin="miter"/>
<path d="M36.3 449 v1.8 M93.1 449 v1.8 M149.9 449 v1.8 M206.7 449 v1.8 M263.5 449 v1.8 M320.3 449 v1.8 M36.3 448.95 h-1.8 M36.3 421.31 h-1.8 M36.3 393.68 h-1.8 M36.3 366.04 h-1.8 M36.3 338.41 h-1.8 M36.3 310.77 h-1.8 M36.3 283.14 h-1.8 M36.3 255.5 h-1.8" fill="none" stroke="#5a5a5a" stroke-width="0.7"/>
<g class="tk" font-size="9.6" fill="#1c1c1c">
<text transform="translate(36.66 459.6) rotate(0.05) scale(0.95 1)" text-anchor="middle">0</text>
<text transform="translate(93.06 459.6) rotate(0.05) scale(0.95 1)" text-anchor="middle">100</text>
<text transform="translate(149.46 459.6) rotate(0.05) scale(0.95 1)" text-anchor="middle">200</text>
<text transform="translate(205.85 459.6) rotate(0.05) scale(0.95 1)" text-anchor="middle">300</text>
<text transform="translate(262.25 459.6) rotate(0.05) scale(0.95 1)" text-anchor="middle">400</text>
<text transform="translate(318.65 459.6) rotate(0.05) scale(0.95 1)" text-anchor="middle">500</text>
<text transform="translate(30.6 451.23) rotate(0.05) scale(0.95 1)" text-anchor="middle">0</text>
<text transform="translate(30.6 423.63) rotate(0.05) scale(0.95 1)" text-anchor="middle">1</text>
<text transform="translate(30.6 396.03) rotate(0.05) scale(0.95 1)" text-anchor="middle">2</text>
<text transform="translate(30.6 368.43) rotate(0.05) scale(0.95 1)" text-anchor="middle">3</text>
<text transform="translate(30.6 340.83) rotate(0.05) scale(0.95 1)" text-anchor="middle">4</text>
<text transform="translate(30.6 313.23) rotate(0.05) scale(0.95 1)" text-anchor="middle">5</text>
<text transform="translate(30.6 285.63) rotate(0.05) scale(0.95 1)" text-anchor="middle">6</text>
<text transform="translate(30.6 258.03) rotate(0.05) scale(0.95 1)" text-anchor="middle">7</text>
</g>
<text transform="translate(5.8 264.1) rotate(0.05) scale(1.0 1)" font-size="18.2" fill="#000">C</text>
<g font-size="13.3" fill="#111111">
<text transform="translate(57.9 278.6) rotate(0.05) scale(1.031 1)">P for overall &lt; 0.001</text>
<text transform="translate(57.9 295.5) rotate(0.05) scale(1.04 1)">P for nonlinear = 0.005</text>
</g>
<text transform="translate(178.1 474.3) rotate(0.05) scale(1.05 1)" font-size="13.4" fill="#111111" text-anchor="middle">PLT(10<tspan font-size="7.6" dy="-4.4" font-weight="bold">9</tspan><tspan dy="4.4">/L)</tspan></text>
<text transform="translate(12.6 353.2) rotate(-89.95) scale(1 1.06)" font-size="13.9" fill="#111111" text-anchor="middle">Odds ratio (95% CI)</text>
</g>
<g id="panel-D">
<path d="M403.3 412.06 L405.14 412.51 L406.99 412.95 L408.83 413.38 L410.67 413.8 L412.51 414.23 L414.36 414.64 L416.2 415.05 L418.04 415.46 L419.88 415.86 L421.73 416.26 L423.57 416.65 L425.41 417.03 L427.25 417.41 L429.1 417.79 L430.94 418.16 L432.78 418.53 L434.62 418.89 L436.47 419.25 L438.31 419.6 L440.15 419.95 L442 420.3 L443.84 420.64 L445.68 420.98 L447.52 421.31 L449.37 421.64 L451.21 421.96 L453.05 422.28 L454.89 422.59 L456.74 422.91 L458.58 423.21 L460.42 423.52 L462.26 423.82 L464.11 424.11 L465.95 424.41 L467.79 424.7 L469.63 424.98 L471.48 425.26 L473.32 425.54 L475.16 425.81 L477.01 426.08 L478.85 426.35 L480.69 426.61 L482.53 426.87 L484.38 427.13 L486.22 427.37 L488.06 427.6 L489.9 427.82 L491.75 428.02 L493.59 428.19 L495.43 428.35 L497.27 428.48 L499.12 428.59 L500.96 428.66 L502.8 428.7 L504.64 428.72 L506.49 428.69 L508.33 428.63 L510.17 428.53 L512.02 428.23 L513.86 427.82 L515.7 427.37 L517.54 426.88 L519.39 426.35 L521.23 425.78 L523.07 425.17 L524.91 424.53 L526.76 423.84 L528.6 423.12 L530.44 422.36 L532.28 421.57 L534.13 420.76 L535.97 419.92 L537.81 419.06 L539.66 418.16 L541.5 417.24 L543.34 416.29 L545.18 415.31 L547.03 414.29 L548.87 413.25 L550.71 412.17 L552.55 411.06 L554.4 409.92 L556.24 408.73 L558.08 407.51 L559.92 406.26 L561.77 404.96 L563.61 403.62 L565.45 402.24 L567.29 400.82 L569.14 399.35 L570.98 397.84 L572.82 396.28 L574.67 394.67 L576.51 393.01 L578.35 391.3 L580.19 389.54 L582.04 387.72 L583.88 385.84 L585.72 383.9 L587.56 381.91 L589.41 379.85 L591.25 377.72 L593.09 375.53 L594.93 373.28 L596.78 370.95 L598.62 368.54 L600.46 366.07 L602.3 363.51 L604.15 360.88 L605.99 358.16 L607.83 355.36 L609.68 352.47 L611.52 349.49 L613.36 346.42 L615.2 343.25 L617.05 339.98 L618.89 336.61 L620.73 333.13 L622.57 329.54 L624.42 325.85 L626.26 322.03 L628.1 318.1 L629.94 314.04 L631.79 309.86 L633.63 305.55 L635.47 301.1 L637.31 296.51 L639.16 291.78 L641 286.9 L641 391.83 L639.16 392.69 L637.31 393.53 L635.47 394.37 L633.63 395.18 L631.79 395.99 L629.94 396.78 L628.1 397.57 L626.26 398.34 L624.42 399.09 L622.57 399.84 L620.73 400.57 L618.89 401.3 L617.05 402.01 L615.2 402.71 L613.36 403.4 L611.52 404.08 L609.68 404.75 L607.83 405.41 L605.99 406.06 L604.15 406.7 L602.3 407.33 L600.46 407.95 L598.62 408.56 L596.78 409.16 L594.93 409.75 L593.09 410.34 L591.25 410.91 L589.41 411.48 L587.56 412.03 L585.72 412.58 L583.88 413.12 L582.04 413.65 L580.19 414.18 L578.35 414.69 L576.51 415.2 L574.67 415.7 L572.82 416.19 L570.98 416.68 L569.14 417.15 L567.29 417.62 L565.45 418.08 L563.61 418.54 L561.77 418.99 L559.92 419.43 L558.08 419.87 L556.24 420.3 L554.4 420.72 L552.55 421.13 L550.71 421.54 L548.87 421.95 L547.03 422.34 L545.18 422.74 L543.34 423.12 L541.5 423.5 L539.66 423.88 L537.81 424.24 L535.97 424.61 L534.13 424.97 L532.28 425.32 L530.44 425.67 L528.6 426.01 L526.76 426.35 L524.91 426.67 L523.07 426.98 L521.23 427.27 L519.39 427.54 L517.54 427.8 L515.7 428.03 L513.86 428.23 L512.02 428.4 L510.17 428.6 L508.33 428.94 L506.49 429.25 L504.64 429.54 L502.8 429.8 L500.96 430.05 L499.12 430.28 L497.27 430.5 L495.43 430.7 L493.59 430.9 L491.75 431.09 L489.9 431.27 L488.06 431.44 L486.22 431.61 L484.38 431.77 L482.53 431.94 L480.69 432.1 L478.85 432.26 L477.01 432.41 L475.16 432.57 L473.32 432.72 L471.48 432.88 L469.63 433.03 L467.79 433.18 L465.95 433.33 L464.11 433.48 L462.26 433.62 L460.42 433.77 L458.58 433.91 L456.74 434.05 L454.89 434.19 L453.05 434.33 L451.21 434.47 L449.37 434.6 L447.52 434.74 L445.68 434.87 L443.84 435.01 L442 435.14 L440.15 435.27 L438.31 435.39 L436.47 435.52 L434.62 435.65 L432.78 435.77 L430.94 435.89 L429.1 436.01 L427.25 436.14 L425.41 436.25 L423.57 436.37 L421.73 436.49 L419.88 436.61 L418.04 436.72 L416.2 436.83 L414.36 436.94 L412.51 437.06 L410.67 437.17 L408.83 437.27 L406.99 437.38 L405.14 437.49 L403.3 437.59Z" fill="#ffcaca"/>
<path d="M403.3 428.71 L405.14 428.73 L406.99 428.75 L408.83 428.77 L410.67 428.8 L412.51 428.82 L414.36 428.84 L416.2 428.86 L418.04 428.88 L419.88 428.9 L421.73 428.92 L423.57 428.94 L425.41 428.96 L427.25 428.98 L429.1 429 L430.94 429.02 L432.78 429.04 L434.62 429.06 L436.47 429.08 L438.31 429.1 L440.15 429.12 L442 429.14 L443.84 429.16 L445.68 429.18 L447.52 429.2 L449.37 429.22 L451.21 429.24 L453.05 429.26 L454.89 429.28 L456.74 429.3 L458.58 429.32 L460.42 429.34 L462.26 429.36 L464.11 429.38 L465.95 429.4 L467.79 429.42 L469.63 429.44 L471.48 429.46 L473.32 429.48 L475.16 429.5 L477.01 429.52 L478.85 429.54 L480.69 429.56 L482.53 429.58 L484.38 429.6 L486.22 429.61 L488.06 429.62 L489.9 429.62 L491.75 429.62 L493.59 429.6 L495.43 429.56 L497.27 429.52 L499.12 429.45 L500.96 429.37 L502.8 429.26 L504.64 429.13 L506.49 428.97 L508.33 428.79 L510.17 428.57 L512.02 428.31 L513.86 428.03 L515.7 427.7 L517.54 427.34 L519.39 426.96 L521.23 426.54 L523.07 426.09 L524.91 425.62 L526.76 425.13 L528.6 424.61 L530.44 424.07 L532.28 423.52 L534.13 422.95 L535.97 422.37 L537.81 421.78 L539.66 421.17 L541.5 420.55 L543.34 419.91 L545.18 419.26 L547.03 418.6 L548.87 417.91 L550.71 417.21 L552.55 416.5 L554.4 415.77 L556.24 415.02 L558.08 414.26 L559.92 413.47 L561.77 412.67 L563.61 411.85 L565.45 411.01 L567.29 410.15 L569.14 409.27 L570.98 408.37 L572.82 407.45 L574.67 406.5 L576.51 405.54 L578.35 404.55 L580.19 403.54 L582.04 402.51 L583.88 401.45 L585.72 400.36 L587.56 399.26 L589.41 398.12 L591.25 396.96 L593.09 395.77 L594.93 394.56 L596.78 393.31 L598.62 392.04 L600.46 390.73 L602.3 389.4 L604.15 388.03 L605.99 386.64 L607.83 385.21 L609.68 383.74 L611.52 382.25 L613.36 380.71 L615.2 379.14 L617.05 377.54 L618.89 375.9 L620.73 374.22 L622.57 372.49 L624.42 370.73 L626.26 368.93 L628.1 367.09 L629.94 365.2 L631.79 363.27 L633.63 361.29 L635.47 359.27 L637.31 357.2 L639.16 355.08 L641 352.91" fill="none" stroke="#e03a37" stroke-width="0.95"/>
<line x1="393.5" y1="428.5" x2="673.9" y2="428.5" stroke="#000" stroke-opacity="0.88" stroke-width="1.0" stroke-dasharray="3.2 2.15" stroke-dashoffset="0"/>
<path d="M403.3 428.71 L405.14 428.73 L406.99 428.75 L408.83 428.77 L410.67 428.8 L412.51 428.82 L414.36 428.84 L416.2 428.86 L418.04 428.88 L419.88 428.9 L421.73 428.92 L423.57 428.94 L425.41 428.96 L427.25 428.98 L429.1 429 L430.94 429.02 L432.78 429.04 L434.62 429.06 L436.47 429.08 L438.31 429.1 L440.15 429.12 L442 429.14 L443.84 429.16 L445.68 429.18 L447.52 429.2 L449.37 429.22 L451.21 429.24 L453.05 429.26 L454.89 429.28 L456.74 429.3 L458.58 429.32 L460.42 429.34 L462.26 429.36 L464.11 429.38 L465.95 429.4 L467.79 429.42 L469.63 429.44 L471.48 429.46 L473.32 429.48 L475.16 429.5 L477.01 429.52 L478.85 429.54 L480.69 429.56 L482.53 429.58 L484.38 429.6 L486.22 429.61 L488.06 429.62 L489.9 429.62 L491.75 429.62 L493.59 429.6 L495.43 429.56 L497.27 429.52 L499.12 429.45 L500.96 429.37 L502.8 429.26 L504.64 429.13 L506.49 428.97 L508.33 428.79 L510.17 428.57 L512.02 428.31 L513.86 428.03 L515.7 427.7 L517.54 427.34 L519.39 426.96 L521.23 426.54 L523.07 426.09 L524.91 425.62 L526.76 425.13 L528.6 424.61 L530.44 424.07 L532.28 423.52 L534.13 422.95 L535.97 422.37 L537.81 421.78 L539.66 421.17 L541.5 420.55 L543.34 419.91 L545.18 419.26 L547.03 418.6 L548.87 417.91 L550.71 417.21 L552.55 416.5 L554.4 415.77 L556.24 415.02 L558.08 414.26 L559.92 413.47 L561.77 412.67 L563.61 411.85 L565.45 411.01 L567.29 410.15 L569.14 409.27 L570.98 408.37 L572.82 407.45 L574.67 406.5 L576.51 405.54 L578.35 404.55 L580.19 403.54 L582.04 402.51 L583.88 401.45 L585.72 400.36 L587.56 399.26 L589.41 398.12 L591.25 396.96 L593.09 395.77 L594.93 394.56 L596.78 393.31 L598.62 392.04 L600.46 390.73 L602.3 389.4 L604.15 388.03 L605.99 386.64 L607.83 385.21 L609.68 383.74 L611.52 382.25 L613.36 380.71 L615.2 379.14 L617.05 377.54 L618.89 375.9 L620.73 374.22 L622.57 372.49 L624.42 370.73 L626.26 368.93 L628.1 367.09 L629.94 365.2 L631.79 363.27 L633.63 361.29 L635.47 359.27 L637.31 357.2 L639.16 355.08 L641 352.91" fill="none" stroke="#e03a37" stroke-opacity="0.38" stroke-width="0.95"/>
<path d="M393.5 254.4 V447.3 H673.9" fill="none" stroke="#444444" stroke-width="1.2" stroke-linejoin="miter"/>
<path d="M393.5 447.3 v1.8 M440.17 447.3 v1.8 M486.83 447.3 v1.8 M533.5 447.3 v1.8 M580.17 447.3 v1.8 M626.83 447.3 v1.8 M673.5 447.3 v1.8 M393.5 447.3 h-1.8 M393.5 408.8 h-1.8 M393.5 370.3 h-1.8 M393.5 331.8 h-1.8 M393.5 293.3 h-1.8 M393.5 254.8 h-1.8" fill="none" stroke="#5a5a5a" stroke-width="0.7"/>
<g class="tk" font-size="9.6" fill="#1c1c1c">
<text transform="translate(396.4 456.8) rotate(0.05) scale(0.95 1)" text-anchor="middle">3.0</text>
<text transform="translate(442.6 456.8) rotate(0.05) scale(0.95 1)" text-anchor="middle">3.5</text>
<text transform="translate(488.8 456.8) rotate(0.05) scale(0.95 1)" text-anchor="middle">4.0</text>
<text transform="translate(535 456.8) rotate(0.05) scale(0.95 1)" text-anchor="middle">4.5</text>
<text transform="translate(581.2 456.8) rotate(0.05) scale(0.95 1)" text-anchor="middle">5.0</text>
<text transform="translate(627.4 456.8) rotate(0.05) scale(0.95 1)" text-anchor="middle">5.5</text>
<text transform="translate(673.6 456.8) rotate(0.05) scale(0.95 1)" text-anchor="middle">6.0</text>
<text transform="translate(387.5 451.23) rotate(0.05) scale(0.95 1)" text-anchor="middle">0</text>
<text transform="translate(387.5 412.64) rotate(0.05) scale(0.95 1)" text-anchor="middle">2</text>
<text transform="translate(387.5 374.05) rotate(0.05) scale(0.95 1)" text-anchor="middle">4</text>
<text transform="translate(387.5 335.46) rotate(0.05) scale(0.95 1)" text-anchor="middle">6</text>
<text transform="translate(387.5 296.87) rotate(0.05) scale(0.95 1)" text-anchor="middle">8</text>
<text transform="translate(387.5 258.28) rotate(0.05) scale(0.95 1)" text-anchor="middle">10</text>
</g>
<text transform="translate(357.1 264.1) rotate(0.05) scale(1.0 1)" font-size="18.2" fill="#000">D</text>
<g font-size="13.3" fill="#111111">
<text transform="translate(413.6 276) rotate(0.05) scale(1.031 1)">P for overall &lt; 0.001</text>
<text transform="translate(413.6 293.2) rotate(0.05) scale(1.04 1)">P for nonlinear = 0.009</text>
</g>
<text transform="translate(533.25 471.8) rotate(0.05) scale(1.05 1)" font-size="13.4" fill="#111111" text-anchor="middle">RBC(10<tspan font-size="7.6" dy="-4.4" font-weight="bold">12</tspan><tspan dy="4.4">/L)</tspan></text>
<text transform="translate(370.9 354.2) rotate(-89.95) scale(1 1.06)" font-size="13.9" fill="#111111" text-anchor="middle">Odds ratio (95% CI)</text>
</g>
<g id="panel-E">
<path d="M52.7 593.58 L54.71 594.92 L56.71 596.25 L58.72 597.55 L60.73 598.84 L62.73 600.11 L64.74 601.37 L66.75 602.6 L68.76 603.82 L70.76 605.03 L72.77 606.21 L74.78 607.38 L76.78 608.53 L78.79 609.67 L80.8 610.79 L82.8 611.9 L84.81 612.99 L86.82 614.07 L88.83 615.13 L90.83 616.17 L92.84 617.21 L94.85 618.22 L96.85 619.23 L98.86 620.22 L100.87 621.19 L102.87 622.16 L104.88 623.11 L106.89 624.04 L108.9 624.97 L110.9 625.88 L112.91 626.78 L114.92 627.66 L116.92 628.54 L118.93 629.4 L120.94 630.25 L122.94 631.08 L124.95 631.91 L126.96 632.73 L128.97 633.53 L130.97 634.32 L132.98 635.1 L134.99 635.88 L136.99 636.64 L139 637.39 L141.01 638.13 L143.01 638.86 L145.02 639.57 L147.03 640.28 L149.03 640.98 L151.04 641.67 L153.05 642.35 L155.06 643.03 L157.06 643.69 L159.07 644.34 L161.08 644.98 L163.08 645.62 L165.09 646.24 L167.1 646.86 L169.1 647.47 L171.11 648.07 L173.12 648.66 L175.13 649.25 L177.13 649.82 L179.14 650.39 L181.15 650.95 L183.15 651.5 L185.16 652.03 L187.17 652.51 L189.17 652.92 L191.18 653.23 L193.19 653.43 L195.2 653.52 L197.2 653.49 L199.21 653.37 L201.22 653.15 L203.22 652.82 L205.23 652.43 L207.24 651.93 L209.24 651.35 L211.25 650.68 L213.26 649.92 L215.27 649.08 L217.27 648.16 L219.28 647.16 L221.29 646.08 L223.29 644.92 L225.3 643.68 L227.31 642.37 L229.31 640.98 L231.32 639.53 L233.33 638 L235.33 636.41 L237.34 634.77 L239.35 633.07 L241.36 631.31 L243.36 629.51 L245.37 627.65 L247.38 625.73 L249.38 623.76 L251.39 621.73 L253.4 619.63 L255.4 617.47 L257.41 615.25 L259.42 612.96 L261.43 610.6 L263.43 608.16 L265.44 605.66 L267.45 603.08 L269.45 600.42 L271.46 597.68 L273.47 594.86 L275.47 591.95 L277.48 588.95 L279.49 585.87 L281.5 582.69 L283.5 579.41 L285.51 576.04 L287.52 572.56 L289.52 568.98 L291.53 565.29 L293.54 561.49 L295.54 557.57 L297.55 553.54 L299.56 549.38 L301.57 545.1 L303.57 540.69 L305.58 536.14 L307.59 531.46 L309.59 526.64 L311.6 521.67 L311.6 623.43 L309.59 624.15 L307.59 624.85 L305.58 625.55 L303.57 626.25 L301.57 626.93 L299.56 627.61 L297.55 628.28 L295.54 628.95 L293.54 629.6 L291.53 630.25 L289.52 630.9 L287.52 631.53 L285.51 632.16 L283.5 632.78 L281.5 633.4 L279.49 634.01 L277.48 634.61 L275.47 635.21 L273.47 635.8 L271.46 636.38 L269.45 636.96 L267.45 637.54 L265.44 638.1 L263.43 638.66 L261.43 639.22 L259.42 639.76 L257.41 640.31 L255.4 640.84 L253.4 641.37 L251.39 641.9 L249.38 642.42 L247.38 642.93 L245.37 643.44 L243.36 643.95 L241.36 644.44 L239.35 644.94 L237.34 645.42 L235.33 645.91 L233.33 646.38 L231.32 646.85 L229.31 647.32 L227.31 647.78 L225.3 648.23 L223.29 648.68 L221.29 649.13 L219.28 649.56 L217.27 649.99 L215.27 650.41 L213.26 650.83 L211.25 651.24 L209.24 651.65 L207.24 652.05 L205.23 652.44 L203.22 652.83 L201.22 653.2 L199.21 653.57 L197.2 653.93 L195.2 654.29 L193.19 654.64 L191.18 654.99 L189.17 655.32 L187.17 655.66 L185.16 655.98 L183.15 656.3 L181.15 656.62 L179.14 656.94 L177.13 657.25 L175.13 657.56 L173.12 657.87 L171.11 658.17 L169.1 658.48 L167.1 658.77 L165.09 659.07 L163.08 659.36 L161.08 659.65 L159.07 659.94 L157.06 660.23 L155.06 660.51 L153.05 660.79 L151.04 661.07 L149.03 661.34 L147.03 661.62 L145.02 661.89 L143.01 662.15 L141.01 662.42 L139 662.68 L136.99 662.94 L134.99 663.2 L132.98 663.46 L130.97 663.71 L128.97 663.96 L126.96 664.21 L124.95 664.45 L122.94 664.7 L120.94 664.94 L118.93 665.18 L116.92 665.42 L114.92 665.65 L112.91 665.88 L110.9 666.12 L108.9 666.34 L106.89 666.57 L104.88 666.8 L102.87 667.02 L100.87 667.24 L98.86 667.46 L96.85 667.67 L94.85 667.89 L92.84 668.1 L90.83 668.31 L88.83 668.52 L86.82 668.73 L84.81 668.93 L82.8 669.13 L80.8 669.33 L78.79 669.53 L76.78 669.73 L74.78 669.93 L72.77 670.12 L70.76 670.31 L68.76 670.5 L66.75 670.69 L64.74 670.88 L62.73 671.06 L60.73 671.25 L58.72 671.43 L56.71 671.61 L54.71 671.79 L52.7 671.96Z" fill="#ffcaca"/>
<path d="M52.7 647.92 L54.71 648.02 L56.71 648.12 L58.72 648.22 L60.73 648.32 L62.73 648.42 L64.74 648.52 L66.75 648.62 L68.76 648.72 L70.76 648.82 L72.77 648.92 L74.78 649.01 L76.78 649.11 L78.79 649.21 L80.8 649.31 L82.8 649.4 L84.81 649.5 L86.82 649.6 L88.83 649.69 L90.83 649.79 L92.84 649.89 L94.85 649.98 L96.85 650.08 L98.86 650.17 L100.87 650.27 L102.87 650.36 L104.88 650.46 L106.89 650.55 L108.9 650.65 L110.9 650.74 L112.91 650.83 L114.92 650.93 L116.92 651.02 L118.93 651.11 L120.94 651.21 L122.94 651.3 L124.95 651.39 L126.96 651.48 L128.97 651.58 L130.97 651.67 L132.98 651.76 L134.99 651.85 L136.99 651.94 L139 652.03 L141.01 652.12 L143.01 652.21 L145.02 652.31 L147.03 652.4 L149.03 652.49 L151.04 652.58 L153.05 652.66 L155.06 652.75 L157.06 652.84 L159.07 652.93 L161.08 653.02 L163.08 653.11 L165.09 653.2 L167.1 653.29 L169.1 653.37 L171.11 653.46 L173.12 653.55 L175.13 653.64 L177.13 653.72 L179.14 653.81 L181.15 653.9 L183.15 653.98 L185.16 654.06 L187.17 654.12 L189.17 654.14 L191.18 654.12 L193.19 654.04 L195.2 653.91 L197.2 653.71 L199.21 653.47 L201.22 653.17 L203.22 652.83 L205.23 652.43 L207.24 651.99 L209.24 651.5 L211.25 650.96 L213.26 650.38 L215.27 649.75 L217.27 649.09 L219.28 648.38 L221.29 647.63 L223.29 646.84 L225.3 646.02 L227.31 645.15 L229.31 644.26 L231.32 643.33 L233.33 642.37 L235.33 641.39 L237.34 640.38 L239.35 639.34 L241.36 638.29 L243.36 637.21 L245.37 636.11 L247.38 634.99 L249.38 633.84 L251.39 632.68 L253.4 631.49 L255.4 630.27 L257.41 629.03 L259.42 627.76 L261.43 626.47 L263.43 625.15 L265.44 623.81 L267.45 622.44 L269.45 621.04 L271.46 619.61 L273.47 618.15 L275.47 616.66 L277.48 615.14 L279.49 613.59 L281.5 612.01 L283.5 610.4 L285.51 608.75 L287.52 607.07 L289.52 605.36 L291.53 603.61 L293.54 601.83 L295.54 600.01 L297.55 598.15 L299.56 596.25 L301.57 594.32 L303.57 592.34 L305.58 590.33 L307.59 588.27 L309.59 586.17 L311.6 584.03" fill="none" stroke="#e03a37" stroke-width="0.95"/>
<line x1="35" y1="652.5" x2="318.6" y2="652.5" stroke="#000" stroke-opacity="0.84" stroke-width="0.9" stroke-dasharray="3.2 2.15" stroke-dashoffset="0"/>
<path d="M52.7 647.92 L54.71 648.02 L56.71 648.12 L58.72 648.22 L60.73 648.32 L62.73 648.42 L64.74 648.52 L66.75 648.62 L68.76 648.72 L70.76 648.82 L72.77 648.92 L74.78 649.01 L76.78 649.11 L78.79 649.21 L80.8 649.31 L82.8 649.4 L84.81 649.5 L86.82 649.6 L88.83 649.69 L90.83 649.79 L92.84 649.89 L94.85 649.98 L96.85 650.08 L98.86 650.17 L100.87 650.27 L102.87 650.36 L104.88 650.46 L106.89 650.55 L108.9 650.65 L110.9 650.74 L112.91 650.83 L114.92 650.93 L116.92 651.02 L118.93 651.11 L120.94 651.21 L122.94 651.3 L124.95 651.39 L126.96 651.48 L128.97 651.58 L130.97 651.67 L132.98 651.76 L134.99 651.85 L136.99 651.94 L139 652.03 L141.01 652.12 L143.01 652.21 L145.02 652.31 L147.03 652.4 L149.03 652.49 L151.04 652.58 L153.05 652.66 L155.06 652.75 L157.06 652.84 L159.07 652.93 L161.08 653.02 L163.08 653.11 L165.09 653.2 L167.1 653.29 L169.1 653.37 L171.11 653.46 L173.12 653.55 L175.13 653.64 L177.13 653.72 L179.14 653.81 L181.15 653.9 L183.15 653.98 L185.16 654.06 L187.17 654.12 L189.17 654.14 L191.18 654.12 L193.19 654.04 L195.2 653.91 L197.2 653.71 L199.21 653.47 L201.22 653.17 L203.22 652.83 L205.23 652.43 L207.24 651.99 L209.24 651.5 L211.25 650.96 L213.26 650.38 L215.27 649.75 L217.27 649.09 L219.28 648.38 L221.29 647.63 L223.29 646.84 L225.3 646.02 L227.31 645.15 L229.31 644.26 L231.32 643.33 L233.33 642.37 L235.33 641.39 L237.34 640.38 L239.35 639.34 L241.36 638.29 L243.36 637.21 L245.37 636.11 L247.38 634.99 L249.38 633.84 L251.39 632.68 L253.4 631.49 L255.4 630.27 L257.41 629.03 L259.42 627.76 L261.43 626.47 L263.43 625.15 L265.44 623.81 L267.45 622.44 L269.45 621.04 L271.46 619.61 L273.47 618.15 L275.47 616.66 L277.48 615.14 L279.49 613.59 L281.5 612.01 L283.5 610.4 L285.51 608.75 L287.52 607.07 L289.52 605.36 L291.53 603.61 L293.54 601.83 L295.54 600.01 L297.55 598.15 L299.56 596.25 L301.57 594.32 L303.57 592.34 L305.58 590.33 L307.59 588.27 L309.59 586.17 L311.6 584.03" fill="none" stroke="#e03a37" stroke-opacity="0.38" stroke-width="0.95"/>
<path d="M35 497.3 V690.75 H318.6" fill="none" stroke="#444444" stroke-width="1.6" stroke-linejoin="miter"/>
<path d="M35 690.75 v2 M105.85 690.75 v2 M176.7 690.75 v2 M247.55 690.75 v2 M318.4 690.75 v2 M35 690.75 h-2 M35 652.22 h-2 M35 613.69 h-2 M35 575.16 h-2 M35 536.63 h-2 M35 498.1 h-2" fill="none" stroke="#5a5a5a" stroke-width="0.7"/>
<g class="tk" font-size="9.6" fill="#1c1c1c">
<text transform="translate(37 700.7) rotate(0.05) scale(0.95 1)" text-anchor="middle">80</text>
<text transform="translate(107.1 700.7) rotate(0.05) scale(0.95 1)" text-anchor="middle">100</text>
<text transform="translate(177.2 700.7) rotate(0.05) scale(0.95 1)" text-anchor="middle">120</text>
<text transform="translate(247.3 700.7) rotate(0.05) scale(0.95 1)" text-anchor="middle">140</text>
<text transform="translate(317.4 700.7) rotate(0.05) scale(0.95 1)" text-anchor="middle">160</text>
<text transform="translate(28.95 694.73) rotate(0.05) scale(0.95 1)" text-anchor="middle">0</text>
<text transform="translate(28.95 656.05) rotate(0.05) scale(0.95 1)" text-anchor="middle">1</text>
<text transform="translate(28.95 617.37) rotate(0.05) scale(0.95 1)" text-anchor="middle">2</text>
<text transform="translate(28.95 578.69) rotate(0.05) scale(0.95 1)" text-anchor="middle">3</text>
<text transform="translate(28.95 540.01) rotate(0.05) scale(0.95 1)" text-anchor="middle">4</text>
<text transform="translate(28.95 501.33) rotate(0.05) scale(0.95 1)" text-anchor="middle">5</text>
</g>
<text transform="translate(2.7 504.2) rotate(0.05) scale(1.0 1)" font-size="18.2" fill="#000">E</text>
<g font-size="13.3" fill="#111111">
<text transform="translate(56.3 518.8) rotate(0.05) scale(1.031 1)">P for overall &lt; 0.001</text>
<text transform="translate(56.3 536) rotate(0.05) scale(1.04 1)">P for nonlinear = 0.014</text>
</g>
<text transform="translate(178 714.5) rotate(0.05) scale(1.05 1)" font-size="13.4" fill="#111111" text-anchor="middle">HGB(g/L)</text>
<text transform="translate(12.5 594.9) rotate(-89.95) scale(1 1.06)" font-size="13.9" fill="#111111" text-anchor="middle">Odds ratio (95% CI)</text>
</g>
<g id="panel-F">
<path d="M416.8 596.82 L418.47 597.84 L420.14 598.86 L421.82 599.86 L423.49 600.85 L425.16 601.84 L426.83 602.81 L428.5 603.77 L430.18 604.72 L431.85 605.66 L433.52 606.59 L435.19 607.5 L436.87 608.41 L438.54 609.31 L440.21 610.2 L441.88 611.08 L443.55 611.95 L445.23 612.81 L446.9 613.66 L448.57 614.5 L450.24 615.33 L451.91 616.16 L453.59 616.97 L455.26 617.78 L456.93 618.57 L458.6 619.36 L460.27 620.14 L461.95 620.91 L463.62 621.67 L465.29 622.42 L466.96 623.17 L468.63 623.91 L470.31 624.63 L471.98 625.35 L473.65 626.07 L475.32 626.77 L477 627.47 L478.67 628.16 L480.34 628.84 L482.01 629.52 L483.68 630.18 L485.36 630.84 L487.03 631.5 L488.7 632.14 L490.37 632.78 L492.04 633.41 L493.72 634.04 L495.39 634.65 L497.06 635.27 L498.73 635.87 L500.4 636.47 L502.08 637.06 L503.75 637.64 L505.42 638.21 L507.09 638.76 L508.77 639.29 L510.44 639.8 L512.11 640.28 L513.78 640.73 L515.45 641.14 L517.13 641.52 L518.8 641.86 L520.47 642.15 L522.14 642.4 L523.81 642.59 L525.49 642.74 L527.16 642.83 L528.83 642.85 L530.5 642.82 L532.17 642.72 L533.85 642.54 L535.52 642.29 L537.19 641.95 L538.86 641.48 L540.53 641.02 L542.21 640.41 L543.88 639.69 L545.55 638.85 L547.22 637.89 L548.9 636.78 L550.57 635.53 L552.24 634.14 L553.91 632.7 L555.58 631.23 L557.26 629.72 L558.93 628.17 L560.6 626.57 L562.27 624.94 L563.94 623.27 L565.62 621.55 L567.29 619.79 L568.96 617.99 L570.63 616.14 L572.3 614.24 L573.98 612.29 L575.65 610.29 L577.32 608.24 L578.99 606.14 L580.67 603.99 L582.34 601.78 L584.01 599.51 L585.68 597.19 L587.35 594.8 L589.03 592.36 L590.7 589.85 L592.37 587.28 L594.04 584.64 L595.71 581.93 L597.39 579.16 L599.06 576.32 L600.73 573.4 L602.4 570.4 L604.07 567.33 L605.75 564.19 L607.42 560.96 L609.09 557.65 L610.76 554.25 L612.43 550.77 L614.11 547.2 L615.78 543.53 L617.45 539.77 L619.12 535.92 L620.8 531.97 L622.47 527.92 L624.14 523.76 L625.81 519.49 L627.48 515.12 L629.16 510.64 L630.83 506.04 L632.5 501.32 L632.5 615.07 L630.83 615.64 L629.16 616.21 L627.48 616.77 L625.81 617.32 L624.14 617.88 L622.47 618.42 L620.8 618.97 L619.12 619.51 L617.45 620.04 L615.78 620.58 L614.11 621.1 L612.43 621.63 L610.76 622.15 L609.09 622.66 L607.42 623.17 L605.75 623.68 L604.07 624.18 L602.4 624.69 L600.73 625.18 L599.06 625.67 L597.39 626.16 L595.71 626.65 L594.04 627.13 L592.37 627.61 L590.7 628.08 L589.03 628.55 L587.35 629.02 L585.68 629.48 L584.01 629.94 L582.34 630.4 L580.67 630.85 L578.99 631.3 L577.32 631.75 L575.65 632.19 L573.98 632.63 L572.3 633.07 L570.63 633.5 L568.96 633.93 L567.29 634.36 L565.62 634.78 L563.94 635.2 L562.27 635.62 L560.6 636.03 L558.93 636.44 L557.26 636.85 L555.58 637.25 L553.91 637.66 L552.24 638.05 L550.57 638.45 L548.9 638.86 L547.22 639.27 L545.55 639.7 L543.88 640.13 L542.21 640.58 L540.53 641.03 L538.86 641.54 L537.19 641.96 L535.52 642.42 L533.85 642.89 L532.17 643.37 L530.5 643.85 L528.83 644.33 L527.16 644.82 L525.49 645.3 L523.81 645.79 L522.14 646.28 L520.47 646.77 L518.8 647.25 L517.13 647.74 L515.45 648.22 L513.78 648.71 L512.11 649.19 L510.44 649.66 L508.77 650.14 L507.09 650.61 L505.42 651.07 L503.75 651.53 L502.08 651.99 L500.4 652.44 L498.73 652.88 L497.06 653.32 L495.39 653.76 L493.72 654.19 L492.04 654.61 L490.37 655.03 L488.7 655.45 L487.03 655.86 L485.36 656.26 L483.68 656.66 L482.01 657.06 L480.34 657.45 L478.67 657.84 L477 658.22 L475.32 658.6 L473.65 658.97 L471.98 659.34 L470.31 659.7 L468.63 660.06 L466.96 660.42 L465.29 660.77 L463.62 661.12 L461.95 661.46 L460.27 661.8 L458.6 662.14 L456.93 662.47 L455.26 662.8 L453.59 663.12 L451.91 663.44 L450.24 663.75 L448.57 664.07 L446.9 664.38 L445.23 664.68 L443.55 664.98 L441.88 665.28 L440.21 665.58 L438.54 665.87 L436.87 666.15 L435.19 666.44 L433.52 666.72 L431.85 667 L430.18 667.27 L428.5 667.54 L426.83 667.81 L425.16 668.07 L423.49 668.34 L421.82 668.59 L420.14 668.85 L418.47 669.1 L416.8 669.35Z" fill="#ffcaca"/>
<path d="M416.8 646.04 L418.47 646.02 L420.14 646.01 L421.82 645.99 L423.49 645.97 L425.16 645.95 L426.83 645.93 L428.5 645.92 L430.18 645.9 L431.85 645.88 L433.52 645.86 L435.19 645.85 L436.87 645.83 L438.54 645.81 L440.21 645.79 L441.88 645.78 L443.55 645.76 L445.23 645.74 L446.9 645.72 L448.57 645.71 L450.24 645.69 L451.91 645.67 L453.59 645.65 L455.26 645.63 L456.93 645.62 L458.6 645.6 L460.27 645.58 L461.95 645.56 L463.62 645.55 L465.29 645.53 L466.96 645.51 L468.63 645.49 L470.31 645.47 L471.98 645.46 L473.65 645.44 L475.32 645.42 L477 645.4 L478.67 645.39 L480.34 645.37 L482.01 645.35 L483.68 645.33 L485.36 645.31 L487.03 645.3 L488.7 645.28 L490.37 645.26 L492.04 645.24 L493.72 645.22 L495.39 645.21 L497.06 645.19 L498.73 645.17 L500.4 645.15 L502.08 645.13 L503.75 645.12 L505.42 645.09 L507.09 645.07 L508.77 645.04 L510.44 645 L512.11 644.95 L513.78 644.89 L515.45 644.82 L517.13 644.74 L518.8 644.63 L520.47 644.52 L522.14 644.38 L523.81 644.22 L525.49 644.04 L527.16 643.83 L528.83 643.6 L530.5 643.34 L532.17 643.04 L533.85 642.72 L535.52 642.35 L537.19 641.95 L538.86 641.51 L540.53 641.03 L542.21 640.49 L543.88 639.91 L545.55 639.28 L547.22 638.58 L548.9 637.83 L550.57 637.01 L552.24 636.13 L553.91 635.24 L555.58 634.32 L557.26 633.4 L558.93 632.45 L560.6 631.49 L562.27 630.52 L563.94 629.53 L565.62 628.52 L567.29 627.5 L568.96 626.45 L570.63 625.4 L572.3 624.32 L573.98 623.23 L575.65 622.12 L577.32 620.99 L578.99 619.84 L580.67 618.67 L582.34 617.48 L584.01 616.27 L585.68 615.05 L587.35 613.8 L589.03 612.53 L590.7 611.24 L592.37 609.93 L594.04 608.6 L595.71 607.25 L597.39 605.87 L599.06 604.47 L600.73 603.05 L602.4 601.6 L604.07 600.13 L605.75 598.64 L607.42 597.12 L609.09 595.58 L610.76 594.01 L612.43 592.41 L614.11 590.79 L615.78 589.14 L617.45 587.46 L619.12 585.76 L620.8 584.02 L622.47 582.26 L624.14 580.47 L625.81 578.65 L627.48 576.8 L629.16 574.92 L630.83 573.01 L632.5 571.07" fill="none" stroke="#e03a37" stroke-width="0.95"/>
<line x1="393" y1="642" x2="676.6" y2="642" stroke="#000" stroke-opacity="0.76" stroke-width="1.1" stroke-dasharray="3.2 2.15" stroke-dashoffset="0"/>
<path d="M416.8 646.04 L418.47 646.02 L420.14 646.01 L421.82 645.99 L423.49 645.97 L425.16 645.95 L426.83 645.93 L428.5 645.92 L430.18 645.9 L431.85 645.88 L433.52 645.86 L435.19 645.85 L436.87 645.83 L438.54 645.81 L440.21 645.79 L441.88 645.78 L443.55 645.76 L445.23 645.74 L446.9 645.72 L448.57 645.71 L450.24 645.69 L451.91 645.67 L453.59 645.65 L455.26 645.63 L456.93 645.62 L458.6 645.6 L460.27 645.58 L461.95 645.56 L463.62 645.55 L465.29 645.53 L466.96 645.51 L468.63 645.49 L470.31 645.47 L471.98 645.46 L473.65 645.44 L475.32 645.42 L477 645.4 L478.67 645.39 L480.34 645.37 L482.01 645.35 L483.68 645.33 L485.36 645.31 L487.03 645.3 L488.7 645.28 L490.37 645.26 L492.04 645.24 L493.72 645.22 L495.39 645.21 L497.06 645.19 L498.73 645.17 L500.4 645.15 L502.08 645.13 L503.75 645.12 L505.42 645.09 L507.09 645.07 L508.77 645.04 L510.44 645 L512.11 644.95 L513.78 644.89 L515.45 644.82 L517.13 644.74 L518.8 644.63 L520.47 644.52 L522.14 644.38 L523.81 644.22 L525.49 644.04 L527.16 643.83 L528.83 643.6 L530.5 643.34 L532.17 643.04 L533.85 642.72 L535.52 642.35 L537.19 641.95 L538.86 641.51 L540.53 641.03 L542.21 640.49 L543.88 639.91 L545.55 639.28 L547.22 638.58 L548.9 637.83 L550.57 637.01 L552.24 636.13 L553.91 635.24 L555.58 634.32 L557.26 633.4 L558.93 632.45 L560.6 631.49 L562.27 630.52 L563.94 629.53 L565.62 628.52 L567.29 627.5 L568.96 626.45 L570.63 625.4 L572.3 624.32 L573.98 623.23 L575.65 622.12 L577.32 620.99 L578.99 619.84 L580.67 618.67 L582.34 617.48 L584.01 616.27 L585.68 615.05 L587.35 613.8 L589.03 612.53 L590.7 611.24 L592.37 609.93 L594.04 608.6 L595.71 607.25 L597.39 605.87 L599.06 604.47 L600.73 603.05 L602.4 601.6 L604.07 600.13 L605.75 598.64 L607.42 597.12 L609.09 595.58 L610.76 594.01 L612.43 592.41 L614.11 590.79 L615.78 589.14 L617.45 587.46 L619.12 585.76 L620.8 584.02 L622.47 582.26 L624.14 580.47 L625.81 578.65 L627.48 576.8 L629.16 574.92 L630.83 573.01 L632.5 571.07" fill="none" stroke="#e03a37" stroke-opacity="0.38" stroke-width="0.95"/>
<path d="M393 496.4 V690 H676.6" fill="none" stroke="#444444" stroke-width="1.2" stroke-linejoin="miter"/>
<path d="M393 690 v1.8 M449.68 690 v1.8 M506.36 690 v1.8 M563.04 690 v1.8 M619.72 690 v1.8 M676.4 690 v1.8 M393 690 h-1.8 M393 641.67 h-1.8 M393 593.35 h-1.8 M393 545.02 h-1.8 M393 496.7 h-1.8" fill="none" stroke="#5a5a5a" stroke-width="0.7"/>
<g class="tk" font-size="9.6" fill="#1c1c1c">
<text transform="translate(396.3 699.2) rotate(0.05) scale(0.95 1)" text-anchor="middle">25</text>
<text transform="translate(450.3 699.2) rotate(0.05) scale(0.95 1)" text-anchor="middle">30</text>
<text transform="translate(506.5 699.2) rotate(0.05) scale(0.95 1)" text-anchor="middle">35</text>
<text transform="translate(563.5 699.2) rotate(0.05) scale(0.95 1)" text-anchor="middle">40</text>
<text transform="translate(620.4 699.2) rotate(0.05) scale(0.95 1)" text-anchor="middle">45</text>
<text transform="translate(677.4 699.2) rotate(0.05) scale(0.95 1)" text-anchor="middle">50</text>
<text transform="translate(387.5 692.13) rotate(0.05) scale(0.95 1)" text-anchor="middle">0</text>
<text transform="translate(387.5 643.86) rotate(0.05) scale(0.95 1)" text-anchor="middle">1</text>
<text transform="translate(387.5 595.58) rotate(0.05) scale(0.95 1)" text-anchor="middle">2</text>
<text transform="translate(387.5 547.31) rotate(0.05) scale(0.95 1)" text-anchor="middle">3</text>
<text transform="translate(387.5 499.03) rotate(0.05) scale(0.95 1)" text-anchor="middle">4</text>
</g>
<text transform="translate(357.6 504.2) rotate(0.05) scale(1.0 1)" font-size="18.2" fill="#000">F</text>
<g font-size="13.3" fill="#111111">
<text transform="translate(416.4 518.35) rotate(0.05) scale(1.031 1)">P for overall &lt; 0.001</text>
<text transform="translate(416.4 534.9) rotate(0.05) scale(1.04 1)">P for nonlinear = 0.073</text>
</g>
<text transform="translate(536.2 714.7) rotate(0.05) scale(1.05 1)" font-size="13.4" fill="#111111" text-anchor="middle">HCT(%)</text>
<text transform="translate(374.6 591) rotate(-89.95) scale(1 1.06)" font-size="13.9" fill="#111111" text-anchor="middle">Odds ratio (95% CI)</text>
</g>
</g>
</svg>
</body>
</html>
